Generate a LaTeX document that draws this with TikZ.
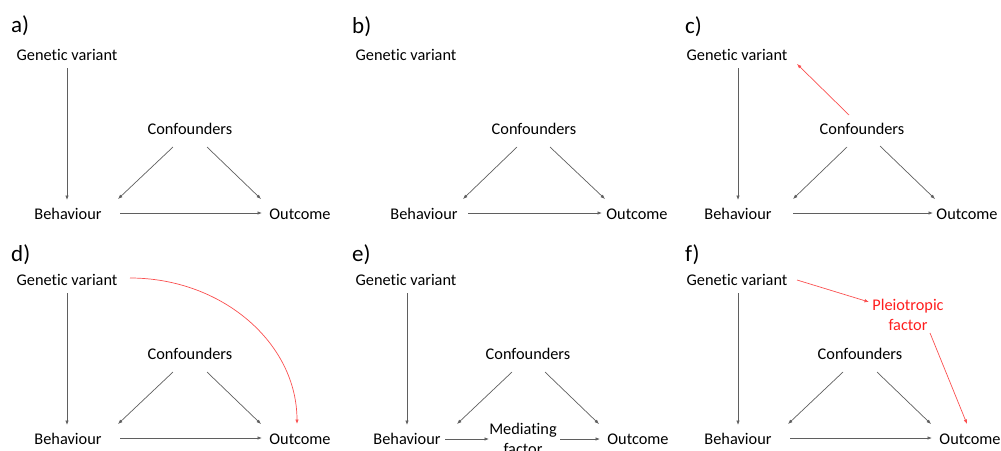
\documentclass[tikz,border=0pt]{standalone}
\usepackage{fontspec}
\setmainfont[Ligatures={NoCommon}]{Carlito}
\usetikzlibrary{arrows.meta}
\definecolor{redtxt}{RGB}{255,30,30}
\definecolor{redln}{RGB}{250,80,80}
\definecolor{grayln}{RGB}{95,95,95}
\tikzset{
  lbl/.style={inner sep=0pt, anchor=base, font=\fontsize{16.3}{20}\selectfont},
  twoline/.style={inner sep=0pt, anchor=center, align=center, font=\fontsize{16.3}{20}\selectfont},
  plabel/.style={inner sep=0pt, anchor=base west, font=\fontsize{23}{27}\selectfont},
  arr/.style={draw=grayln, line width=0.7pt, -{Latex[length=4.5pt,width=3.5pt]}},
  redarr/.style={draw=redln, line width=0.7pt, -{Latex[length=4.5pt,width=3.5pt]}}
}
\begin{document}
\begin{tikzpicture}[x=1pt,y=-1pt]
\useasboundingbox (0,0) rectangle (1001,450);
% ---------- panel a ----------
\node[plabel] (la) at (11,32) {a)};
\node[lbl] (gvA) at (67,60) {Genetic variant};
\node[lbl] (cfA) at (190,134) {Confounders};
\node[lbl] (bhA) at (68,219) {Behaviour};
\node[lbl] (ocA) at (300,219) {Outcome};
\draw[arr] ([shift={(0,8)}]gvA.base) -- ([shift={(-1,-19)}]bhA.base);
\draw[arr] ([shift={(-17,13)}]cfA.base) -- ([shift={(50,-20)}]bhA.base);
\draw[arr] ([shift={(17,13)}]cfA.base) -- ([shift={(-39,-20)}]ocA.base);
\draw[arr] ([shift={(52,-6)}]bhA.base) -- ([shift={(-38,-6)}]ocA.base);
% ---------- panel b ----------
\node[plabel] (lb) at (352,33) {b)};
\node[lbl] (gvB) at (406,60) {Genetic variant};
\node[lbl] (cfB) at (534,134) {Confounders};
\node[lbl] (bhB) at (424,219) {Behaviour};
\node[lbl] (ocB) at (637,219) {Outcome};
\draw[arr] ([shift={(-17,13)}]cfB.base) -- ([shift={(39,-20)}]bhB.base);
\draw[arr] ([shift={(16,13)}]cfB.base) -- ([shift={(-32,-20)}]ocB.base);
\draw[arr] ([shift={(44,-6)}]bhB.base) -- ([shift={(-35,-6)}]ocB.base);
% ---------- panel c ----------
\node[plabel] (lc) at (685,33) {c)};
\node[lbl] (gvC) at (737,60) {Genetic variant};
\node[lbl] (cfC) at (862,134) {Confounders};
\node[lbl] (bhC) at (738,219) {Behaviour};
\node[lbl] (ocC) at (967,219) {Outcome};
\draw[arr] ([shift={(1,8)}]gvC.base) -- ([shift={(0,-19)}]bhC.base);
\draw[redarr] ([shift={(-13,-19)}]cfC.base) -- ([shift={(60,4)}]gvC.base);
\draw[arr] ([shift={(-15,13)}]cfC.base) -- ([shift={(55,-20)}]bhC.base);
\draw[arr] ([shift={(18,12)}]cfC.base) -- ([shift={(-32,-20)}]ocC.base);
\draw[arr] ([shift={(55,-6)}]bhC.base) -- ([shift={(-34,-6)}]ocC.base);
% ---------- panel d ----------
\node[plabel] (ld) at (11,261) {d)};
\node[lbl] (gvD) at (67,285) {Genetic variant};
\node[lbl] (cfD) at (190,359) {Confounders};
\node[lbl] (bhD) at (68,444) {Behaviour};
\node[lbl] (ocD) at (300,444) {Outcome};
\draw[arr] ([shift={(0,8)}]gvD.base) -- ([shift={(-1,-19)}]bhD.base);
\draw[arr] ([shift={(-17,13)}]cfD.base) -- ([shift={(50,-20)}]bhD.base);
\draw[arr] ([shift={(17,13)}]cfD.base) -- ([shift={(-39,-20)}]ocD.base);
\draw[arr] ([shift={(52,-6)}]bhD.base) -- ([shift={(-38,-6)}]ocD.base);
\draw[redarr] ([shift={(63,-7)}]gvD.base) .. controls +(92,0) and +(0,-81) .. ([shift={(-3,-20)}]ocD.base);
% ---------- panel e ----------
\node[plabel] (le) at (352,261) {e)};
\node[lbl] (gvE) at (406,285) {Genetic variant};
\node[lbl] (cfE) at (528,359) {Confounders};
\node[lbl] (bhE) at (407,444) {Behaviour};
\node[twoline] (meE) at (523,439) {Mediating\\factor};
\node[lbl] (ocE) at (638,444) {Outcome};
\draw[arr] ([shift={(1,8)}]gvE.base) -- ([shift={(0,-19)}]bhE.base);
\draw[arr] ([shift={(-16,13)}]cfE.base) -- ([shift={(50,-20)}]bhE.base);
\draw[arr] ([shift={(17,13)}]cfE.base) -- ([shift={(-39,-20)}]ocE.base);
\draw[arr] ([shift={(38,-5)}]bhE.base) -- ([shift={(-34,0)}]meE.center);
\draw[arr] ([shift={(37,0)}]meE.center) -- ([shift={(-38,-5)}]ocE.base);
% ---------- panel f ----------
\node[plabel] (lf) at (685,261) {f)};
\node[lbl] (gvF) at (737,285) {Genetic variant};
\node[twoline, text=redtxt] (pfF) at (908,315) {Pleiotropic\\factor};
\node[lbl] (cfF) at (860,359) {Confounders};
\node[lbl] (bhF) at (738,444) {Behaviour};
\node[lbl] (ocF) at (970,444) {Outcome};
\draw[arr] ([shift={(1,8)}]gvF.base) -- ([shift={(0,-19)}]bhF.base);
\draw[redarr] ([shift={(60,-5)}]gvF.base) -- ([shift={(-39,-13)}]pfF.center);
\draw[redarr] ([shift={(22,18)}]pfF.center) -- ([shift={(-3,-20)}]ocF.base);
\draw[arr] ([shift={(-17,13)}]cfF.base) -- ([shift={(50,-20)}]bhF.base);
\draw[arr] ([shift={(17,13)}]cfF.base) -- ([shift={(-39,-20)}]ocF.base);
\draw[arr] ([shift={(52,-6)}]bhF.base) -- ([shift={(-38,-6)}]ocF.base);
\end{tikzpicture}
\end{document}
